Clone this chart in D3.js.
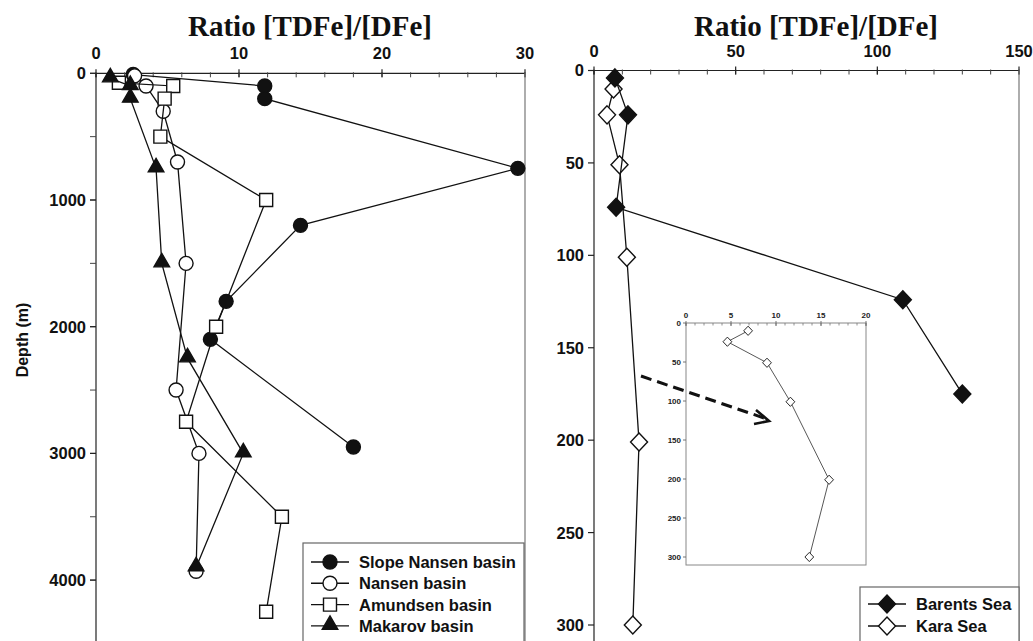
<!DOCTYPE html>
<html>
<head>
<meta charset="utf-8">
<script src="https://cdn.jsdelivr.net/npm/d3@7"></script>
<style>
  body { margin: 0; background: #fff; }
  svg { display: block; }
  .tick-lab { font-family: Arial, "Liberation Sans", sans-serif; font-weight: bold; font-size: 16.5px; fill: #111; }
  .axis-name { font-family: Arial, "Liberation Sans", sans-serif; font-weight: bold; font-size: 16px; fill: #111; }
  .title { font-family: "Times New Roman", "Liberation Serif", serif; font-weight: bold; font-size: 29px; fill: #111; }
  .leg { font-family: Arial, "Liberation Sans", sans-serif; font-weight: bold; font-size: 16.5px; fill: #111; }
  .inset-lab { font-family: Arial, "Liberation Sans", sans-serif; font-weight: bold; font-size: 8px; fill: #222; }
</style>
</head>
<body>
<svg id="chart" width="1033" height="641"></svg>
<script>
// ---- Arctic basins: ratio TDFe/DFe versus depth (m) ----
const slopeNansenRatio = [2.6, 11.8, 11.8, 29.5, 14.3, 9.1, 8.0, 18.0];
const slopeNansenDepth = [10, 100, 200, 750, 1200, 1800, 2100, 2950];

const nansenRatio = [2.7, 3.5, 4.7, 5.7, 6.3, 5.6, 7.2, 7.0];
const nansenDepth = [20, 100, 300, 700, 1500, 2500, 3000, 3930];

const amundsenRatio = [1.6, 5.4, 4.8, 4.5, 11.9, 8.4, 6.3, 13.0, 11.9];
const amundsenDepth = [75, 100, 200, 500, 1000, 2000, 2750, 3500, 4250];

const makarovRatio = [1.0, 2.4, 2.4, 4.2, 4.6, 6.4, 10.3, 7.0];
const makarovDepth = [40, 100, 200, 750, 1500, 2250, 3000, 3900];

// ---- Shelf seas ----
const barentsRatio = [7.4, 12.0, 7.8, 109.0, 130.0];
const barentsDepth = [4, 24, 74, 124, 175];

const karaRatio = [6.9, 4.6, 9.0, 11.6, 15.9, 13.7];
const karaDepth = [10, 24, 51, 101, 201, 300];

// ---- Axis ticks ----
const leftXTicks = [0, 10, 20, 30];
const leftYTicks = [0, 1000, 2000, 3000, 4000];
const rightXTicks = [0, 50, 100, 150];
const rightYTicks = [0, 50, 100, 150, 200, 250, 300];
const insetXTicks = [0, 5, 10, 15, 20];
const insetYTicks = [0, 50, 100, 150, 200, 250, 300];

const leftLegend = ["Slope Nansen basin", "Nansen basin", "Amundsen basin", "Makarov basin"];
const rightLegend = ["Barents Sea", "Kara Sea"];
const titleText = "Ratio [TDFe]/[DFe]";
const depthLabel = "Depth (m)";

const svg = d3.select("#chart");
const zip = (xs, ys) => xs.map((x, i) => ({ x, y: ys[i] }));

// marker shapes
const sym = {
  circle: d3.symbol().type(d3.symbolCircle).size(Math.PI * 7 * 7)(),
  square: d3.symbol().type(d3.symbolSquare).size(13 * 13)(),
  triangle: d3.symbol().type(d3.symbolTriangle).size(105)(),
  diamond: "M0,-9L8.5,0L0,9L-8.5,0Z",
  smallDiamond: "M0,-4.6L4.4,0L0,4.6L-4.4,0Z"
};

function drawSeries(g, x, y, pts, shape, fill, lw, stroke) {
  const line = d3.line().x(d => x(d.x)).y(d => y(d.y));
  g.append("path").attr("d", line(pts)).attr("fill", "none")
    .attr("stroke", stroke || "#111").attr("stroke-width", lw);
  g.selectAll(null).data(pts).enter().append("path")
    .attr("d", sym[shape])
    .attr("transform", d => `translate(${x(d.x)},${y(d.y) + (shape === "triangle" ? -1 : 0)})`)
    .attr("fill", fill).attr("stroke", "#111").attr("stroke-width", shape === "smallDiamond" ? 0.9 : 1.4);
}

function drawFrame(g, x, y, xTicks, xMinor, yTicks, yMinor, bottom) {
  const [x0, x1] = x.range();
  const y0 = y.range()[0];
  // top axis
  g.append("line").attr("x1", x0).attr("x2", x1).attr("y1", y0).attr("y2", y0)
    .attr("stroke", "#222").attr("stroke-width", 1.2);
  xMinor.forEach(v => g.append("line").attr("x1", x(v)).attr("x2", x(v))
    .attr("y1", y0 - 1).attr("y2", y0 + 4).attr("stroke", "#444").attr("stroke-width", 1));
  xTicks.forEach(v => {
    g.append("line").attr("x1", x(v)).attr("x2", x(v)).attr("y1", y0 - 4).attr("y2", y0 + 4)
      .attr("stroke", "#222").attr("stroke-width", 1.2);
    g.append("text").attr("class", "tick-lab").attr("x", x(v)).attr("y", y0 - 14)
      .attr("text-anchor", "middle").text(v);
  });
  // left axis
  g.append("line").attr("x1", x0).attr("x2", x0).attr("y1", y0).attr("y2", bottom)
    .attr("stroke", "#222").attr("stroke-width", 1.2);
  yMinor.forEach(v => g.append("line").attr("x1", x0 - 6).attr("x2", x0)
    .attr("y1", y(v)).attr("y2", y(v)).attr("stroke", "#444").attr("stroke-width", 1));
  yTicks.forEach(v => {
    g.append("line").attr("x1", x0 - 6).attr("x2", x0).attr("y1", y(v)).attr("y2", y(v))
      .attr("stroke", "#222").attr("stroke-width", 1.2);
    g.append("text").attr("class", "tick-lab").attr("x", x0 - 10).attr("y", y(v))
      .attr("dy", "0.36em").attr("text-anchor", "end").text(v);
  });
  // right border
  g.append("line").attr("x1", x1).attr("x2", x1).attr("y1", y0).attr("y2", bottom)
    .attr("stroke", "#777").attr("stroke-width", 1.2);
}

function drawLegend(g, x, yTop, w, entries, rowH, firstY) {
  g.append("rect").attr("x", x).attr("y", yTop).attr("width", w).attr("height", 200)
    .attr("fill", "#fff").attr("stroke", "#666").attr("stroke-width", 1.2);
  entries.forEach((e, i) => {
    const cy = firstY + i * rowH;
    g.append("line").attr("x1", x + 8).attr("x2", x + 46).attr("y1", cy).attr("y2", cy)
      .attr("stroke", "#111").attr("stroke-width", 1.4);
    g.append("path").attr("d", sym[e.shape])
      .attr("transform", `translate(${x + 27},${cy + (e.shape === "triangle" ? -1 : 0)})`)
      .attr("fill", e.fill).attr("stroke", "#111").attr("stroke-width", 1.4);
    g.append("text").attr("class", "leg").attr("x", x + 56).attr("y", cy).attr("dy", "0.36em").text(e.label);
  });
}

// ================= Left panel: deep basins =================
const xL = d3.scaleLinear().domain([0, 30]).range([96, 525]);
const yL = d3.scaleLinear().domain([0, 1000]).range([73.3, 200]);
const gL = svg.append("g");
drawFrame(gL, xL, yL, leftXTicks, d3.range(0, 31, 2), leftYTicks, d3.range(0, 4501, 500), 641);

drawSeries(gL, xL, yL, zip(slopeNansenRatio, slopeNansenDepth), "circle", "#111", 1.3);
drawSeries(gL, xL, yL, zip(nansenRatio, nansenDepth), "circle", "#fff", 1.3);
drawSeries(gL, xL, yL, zip(amundsenRatio, amundsenDepth), "square", "#fff", 1.3);
drawSeries(gL, xL, yL, zip(makarovRatio, makarovDepth), "triangle", "#111", 1.3);

gL.append("text").attr("class", "title").attr("x", 310).attr("y", 36)
  .attr("text-anchor", "middle").text(titleText);
gL.append("text").attr("class", "axis-name")
  .attr("transform", "translate(28,340) rotate(-90)").attr("text-anchor", "middle").text(depthLabel);

drawLegend(gL, 303, 543, 221, leftLegend.map((label, i) => ({
  label,
  shape: ["circle", "circle", "square", "triangle"][i],
  fill: ["#111", "#fff", "#fff", "#111"][i]
})), 21.3, 562);

// ================= Right panel: shelf seas =================
const xR = d3.scaleLinear().domain([0, 150]).range([594, 1019]);
const yR = d3.scaleLinear().domain([0, 300]).range([70.5, 625]);
const gR = svg.append("g");
drawFrame(gR, xR, yR, rightXTicks, d3.range(0, 151, 10), rightYTicks, [], 641);

drawSeries(gR, xR, yR, zip(karaRatio, karaDepth), "diamond", "#fff", 1.3);
drawSeries(gR, xR, yR, zip(barentsRatio, barentsDepth), "diamond", "#111", 1.3);

gR.append("text").attr("class", "title").attr("x", 816).attr("y", 36)
  .attr("text-anchor", "middle").text(titleText);

drawLegend(gR, 860, 587, 159, rightLegend.map((label, i) => ({
  label, shape: "diamond", fill: ["#111", "#fff"][i]
})), 22, 604);

// ---- Inset: Kara Sea profile on an expanded ratio scale ----
const xI = d3.scaleLinear().domain([0, 20]).range([686, 866]);
const yI = d3.scaleLinear().domain([0, 300]).range([323, 557]);
const yIBottom = 565;
const gI = svg.append("g");
gI.append("rect").attr("x", 686).attr("y", 323).attr("width", 180).attr("height", yIBottom - 323)
  .attr("fill", "#fff").attr("stroke", "#888").attr("stroke-width", 1);
d3.range(0, 21, 1).forEach(v => gI.append("line").attr("x1", xI(v)).attr("x2", xI(v))
  .attr("y1", 323).attr("y2", 325.5).attr("stroke", "#777").attr("stroke-width", 0.8));
insetXTicks.forEach(v => {
  gI.append("line").attr("x1", xI(v)).attr("x2", xI(v)).attr("y1", 321).attr("y2", 326)
    .attr("stroke", "#666").attr("stroke-width", 0.9);
  gI.append("text").attr("class", "inset-lab").attr("x", xI(v)).attr("y", 318)
    .attr("text-anchor", "middle").text(v);
});
insetYTicks.forEach(v => {
  gI.append("line").attr("x1", 683).attr("x2", 686).attr("y1", yI(v)).attr("y2", yI(v))
    .attr("stroke", "#666").attr("stroke-width", 0.9);
  gI.append("text").attr("class", "inset-lab").attr("x", 681).attr("y", yI(v))
    .attr("dy", "0.36em").attr("text-anchor", "end").text(v);
});
drawSeries(gI, xI, yI, zip(karaRatio, karaDepth), "smallDiamond", "#fff", 0.9, "#444");

// dashed pointer toward the inset
const arrow = svg.append("g").attr("stroke", "#111").attr("fill", "none");
arrow.append("line").attr("x1", 641).attr("y1", 376).attr("x2", 764).attr("y2", 418)
  .attr("stroke-width", 3).attr("stroke-dasharray", "11,6");
arrow.append("path").attr("d", "M756,410L769,421L754,424")
  .attr("stroke-width", 2.6).attr("stroke-linejoin", "miter");
</script>
</body>
</html>
